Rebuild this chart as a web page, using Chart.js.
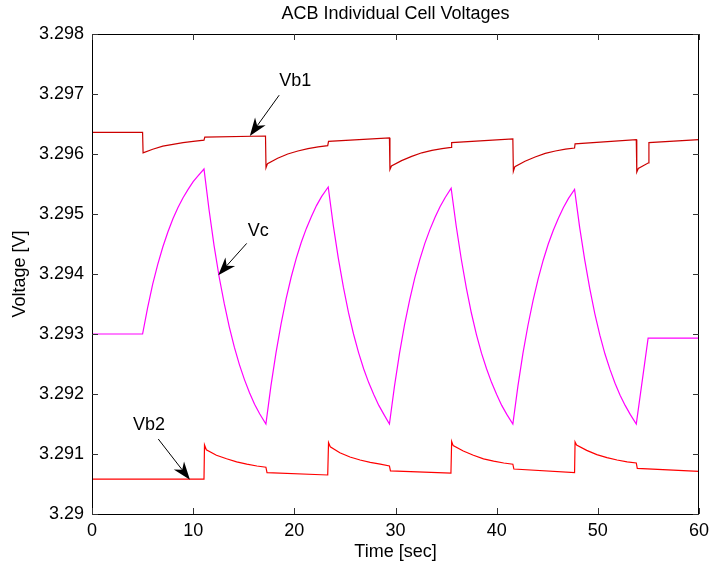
<!DOCTYPE html>
<html>
<head>
<meta charset="utf-8">
<script src="https://cdn.jsdelivr.net/npm/chart.js@4.4.0/dist/chart.umd.min.js"></script>
<style>
    html, body { margin: 0; padding: 0; background: #fff; }
    #box { width: 711px; height: 566px; }
</style>
</head>
<body>
<div id="box"><canvas id="cellChart"></canvas></div>
<script>
    // values (time in sec, voltage in V)
    var chartTitle = 'ACB Individual Cell Voltages';
    var xTicks = [0, 10, 20, 30, 40, 50, 60];
    var yTicks = [3.29, 3.291, 3.292, 3.293, 3.294, 3.295, 3.296, 3.297, 3.298];

    var vb1Time = [0, 5.0, 5.05, 6, 7, 8, 9, 10, 11.07, 11.15, 17.15,
        17.2, 17.35, 18.35, 19.35, 20.35, 21.35, 22.35, 23.3, 23.38, 29.4,
        29.45, 29.6, 30.6, 31.6, 32.6, 33.6, 34.6, 35.5, 35.55, 41.6,
        41.65, 41.8, 42.8, 43.8, 44.8, 45.8, 46.8, 47.7, 47.75, 53.8,
        53.85, 54.0, 54.97, 55.05, 60];
    var vb1Volt = [3.29636, 3.29636, 3.29602, 3.29608, 3.29613, 3.29616, 3.29619, 3.29621, 3.29623, 3.29628, 3.29630,
        3.29577, 3.29584, 3.29593, 3.29600, 3.29605, 3.29609, 3.29612, 3.29614, 3.29621, 3.29627,
        3.29574, 3.29580, 3.29589, 3.29596, 3.29602, 3.29606, 3.29609, 3.29611, 3.29619, 3.29625,
        3.29571, 3.29579, 3.29588, 3.29595, 3.29601, 3.29605, 3.29608, 3.29610, 3.29617, 3.29624,
        3.29570, 3.29576, 3.29585, 3.29619, 3.29624];

    var vcTime = [0, 5.0, 5.5, 6, 6.5, 7, 7.5, 8, 8.5, 9, 9.5, 10, 10.5, 11.07,
        11.57, 12.07, 12.57, 13.07, 13.57, 14.07, 14.57, 15.07, 15.57, 16.07, 16.57, 17.19,
        17.69, 18.19, 18.69, 19.19, 19.69, 20.19, 20.69, 21.19, 21.69, 22.19, 22.69, 23.35,
        23.85, 24.35, 24.85, 25.35, 25.85, 26.35, 26.85, 27.35, 27.85, 28.35, 28.85, 29.4,
        29.9, 30.4, 30.9, 31.4, 31.9, 32.4, 32.9, 33.4, 33.9, 34.4, 34.9, 35.5,
        36.0, 36.5, 37.0, 37.5, 38.0, 38.5, 39.0, 39.5, 40.0, 40.5, 41.0, 41.6,
        42.1, 42.6, 43.1, 43.6, 44.1, 44.6, 45.1, 45.6, 46.1, 46.6, 47.1, 47.7,
        48.2, 48.7, 49.2, 49.7, 50.2, 50.7, 51.2, 51.7, 52.2, 52.7, 53.2, 53.8,
        54.97, 60];
    var vcVolt = [3.29300, 3.29300, 3.29344, 3.29383, 3.29416, 3.29445, 3.29470, 3.29492, 3.29511, 3.29527, 3.29541, 3.29554, 3.29564, 3.29575,
        3.29507, 3.29447, 3.29395, 3.29351, 3.29312, 3.29278, 3.29249, 3.29224, 3.29202, 3.29183, 3.29167, 3.29150,
        3.29214, 3.29269, 3.29317, 3.29359, 3.29395, 3.29426, 3.29453, 3.29476, 3.29496, 3.29514, 3.29529, 3.29545,
        3.29481, 3.29426, 3.29378, 3.29336, 3.29300, 3.29269, 3.29242, 3.29219, 3.29199, 3.29181, 3.29166, 3.29150,
        3.29213, 3.29268, 3.29316, 3.29357, 3.29393, 3.29424, 3.29451, 3.29474, 3.29494, 3.29512, 3.29527, 3.29543,
        3.29480, 3.29425, 3.29377, 3.29335, 3.29299, 3.29268, 3.29242, 3.29219, 3.29199, 3.29181, 3.29166, 3.29150,
        3.29213, 3.29268, 3.29315, 3.29356, 3.29392, 3.29423, 3.29450, 3.29473, 3.29493, 3.29511, 3.29526, 3.29541,
        3.29478, 3.29424, 3.29376, 3.29334, 3.29298, 3.29267, 3.29241, 3.29218, 3.29198, 3.29181, 3.29166, 3.29150,
        3.29293, 3.29293];

    var vb2Time = [0, 11.07, 11.12, 11.3, 12.3, 13.3, 14.3, 15.3, 16.3, 17.19,
        17.3, 23.3, 23.38, 23.55, 24.5, 25.5, 26.5, 27.5, 28.5, 29.4,
        29.5, 35.48, 35.55, 35.7, 36.7, 37.7, 38.7, 39.7, 40.7, 41.6,
        41.7, 47.7, 47.75, 47.9, 48.9, 49.9, 50.9, 51.9, 52.9, 53.8,
        53.9, 60];
    var vb2Volt = [3.29058, 3.29058, 3.29115, 3.29107, 3.29098, 3.29092, 3.29087, 3.29083, 3.29080, 3.29078,
        3.29069, 3.29065, 3.29119, 3.29112, 3.29102, 3.29095, 3.29090, 3.29086, 3.29083, 3.29080,
        3.29072, 3.29068, 3.29121, 3.29114, 3.29105, 3.29098, 3.29092, 3.29088, 3.29085, 3.29083,
        3.29075, 3.29069, 3.29120, 3.29115, 3.29106, 3.29099, 3.29094, 3.29090, 3.29087, 3.29085,
        3.29076, 3.29071];

    // arrow labels, in data units
    var noteText  = ['Vb1', 'Vc', 'Vb2'];
    var noteTextX = [18.5, 15.4, 4.05];
    var noteTextY = [3.29721, 3.29471, 3.29148];
    var noteTailX = [18.5, 15.29, 6.55];
    var noteTailY = [3.29698, 3.29451, 3.29125];
    var noteTipX  = [15.6, 12.48, 9.68];
    var noteTipY  = [3.29630, 3.29398, 3.29057];

    var FONT = "'Liberation Sans', Arial, sans-serif";

    function toPoints(xs, ys) {
        var out = [];
        for (var i = 0; i < xs.length; i++) {
            out.push({x: xs[i], y: ys[i]});
        }
        return out;
    }

    function line(label, xs, ys, color) {
        return {
            label: label,
            data: toPoints(xs, ys),
            borderColor: color,
            backgroundColor: color,
            borderWidth: 1.2,
            pointRadius: 0,
            tension: 0,
            fill: false
        };
    }

    // box round the plot, ticks pointing inwards (matlab look), title over the axes and the arrows
    var frame = {
        id: 'frame',
        afterDatasetsDraw: function(chart) {
            var ctx = chart.ctx, a = chart.chartArea;
            var xs = chart.scales.x, ys = chart.scales.y;
            var tick = 6;
            ctx.save();
            ctx.strokeStyle = '#000';
            ctx.lineWidth = 1;
            ctx.strokeRect(Math.round(a.left) + 0.5, Math.round(a.top) + 0.5,
                Math.round(a.right - a.left) - 1, Math.round(a.bottom - a.top));
            ctx.strokeStyle = '#333';
            ctx.beginPath();
            xTicks.forEach(function(v) {
                var px = Math.round(xs.getPixelForValue(v)) + 0.5;
                ctx.moveTo(px, a.bottom); ctx.lineTo(px, a.bottom - tick);
                ctx.moveTo(px, a.top); ctx.lineTo(px, a.top + tick);
            });
            yTicks.forEach(function(v) {
                var py = Math.round(ys.getPixelForValue(v)) + 0.5;
                ctx.moveTo(a.left, py); ctx.lineTo(a.left + tick, py);
                ctx.moveTo(a.right, py); ctx.lineTo(a.right - tick, py);
            });
            ctx.stroke();

            ctx.fillStyle = '#000';
            ctx.strokeStyle = '#000';
            ctx.font = '18px ' + FONT;
            ctx.textAlign = 'center';
            ctx.textBaseline = 'middle';
            ctx.fillText(chartTitle, (a.left + a.right) / 2, a.top - 20);

            ctx.textAlign = 'left';
            for (var i = 0; i < noteText.length; i++) {
                ctx.fillText(noteText[i], xs.getPixelForValue(noteTextX[i]), ys.getPixelForValue(noteTextY[i]));
                arrow(ctx,
                    xs.getPixelForValue(noteTailX[i]), ys.getPixelForValue(noteTailY[i]),
                    xs.getPixelForValue(noteTipX[i]), ys.getPixelForValue(noteTipY[i]));
            }
            ctx.restore();
        }
    };

    function arrow(ctx, x0, y0, x1, y1) {
        var ang = Math.atan2(y1 - y0, x1 - x0);
        var len = 18, half = 6.5;
        var bx = x1 - len * Math.cos(ang), by = y1 - len * Math.sin(ang);
        var nx = -Math.sin(ang), ny = Math.cos(ang);
        var mx = x1 - len * 0.7 * Math.cos(ang), my = y1 - len * 0.7 * Math.sin(ang);
        ctx.lineWidth = 1;
        ctx.beginPath();
        ctx.moveTo(x0, y0);
        ctx.lineTo(mx, my);
        ctx.stroke();
        ctx.beginPath();
        ctx.moveTo(x1, y1);
        ctx.lineTo(bx + nx * half, by + ny * half);
        ctx.lineTo(mx, my);
        ctx.lineTo(bx - nx * half, by - ny * half);
        ctx.closePath();
        ctx.fill();
    }

    Chart.defaults.font.family = FONT;
    Chart.defaults.font.size = 18;
    Chart.defaults.color = '#000';

    new Chart(document.getElementById('cellChart'), {
        type: 'line',
        data: {
            datasets: [
                line('Vb1', vb1Time, vb1Volt, '#cc0000'),
                line('Vc', vcTime, vcVolt, '#ff00ff'),
                line('Vb2', vb2Time, vb2Volt, '#ff0000')
            ]
        },
        options: {
            responsive: true,
            maintainAspectRatio: false,
            animation: false,
            layout: { padding: { top: 34, right: 12, bottom: 0, left: 0 } },
            plugins: {
                legend: { display: false },
                tooltip: { enabled: false },
                title: { display: false }
            },
            scales: {
                x: {
                    type: 'linear',
                    min: 0, max: 60,
                    afterFit: function(s) { s.height = 52; s.paddingRight = 0; s.paddingLeft = 0; },
                    afterBuildTicks: function(s) { s.ticks = xTicks.map(function(v) { return {value: v}; }); },
                    grid: { display: false, drawTicks: false },
                    border: { display: false },
                    ticks: { padding: 6, maxRotation: 0, callback: function(v) { return String(v); } },
                    title: { display: true, text: 'Time [sec]', font: { size: 18 }, padding: { top: 0, bottom: 3 } }
                },
                y: {
                    type: 'linear',
                    min: 3.29, max: 3.298,
                    afterFit: function(s) { s.width = 92; s.paddingTop = 0; s.paddingBottom = 0; },
                    afterBuildTicks: function(s) { s.ticks = yTicks.map(function(v) { return {value: v}; }); },
                    grid: { display: false, drawTicks: false },
                    border: { display: false },
                    ticks: { padding: 8, callback: function(v) { return String(+v.toFixed(3)); } },
                    title: { display: true, text: 'Voltage [V]', font: { size: 18 }, padding: { top: 9, bottom: 0 } }
                }
            }
        },
        plugins: [frame]
    });
</script>
</body>
</html>
